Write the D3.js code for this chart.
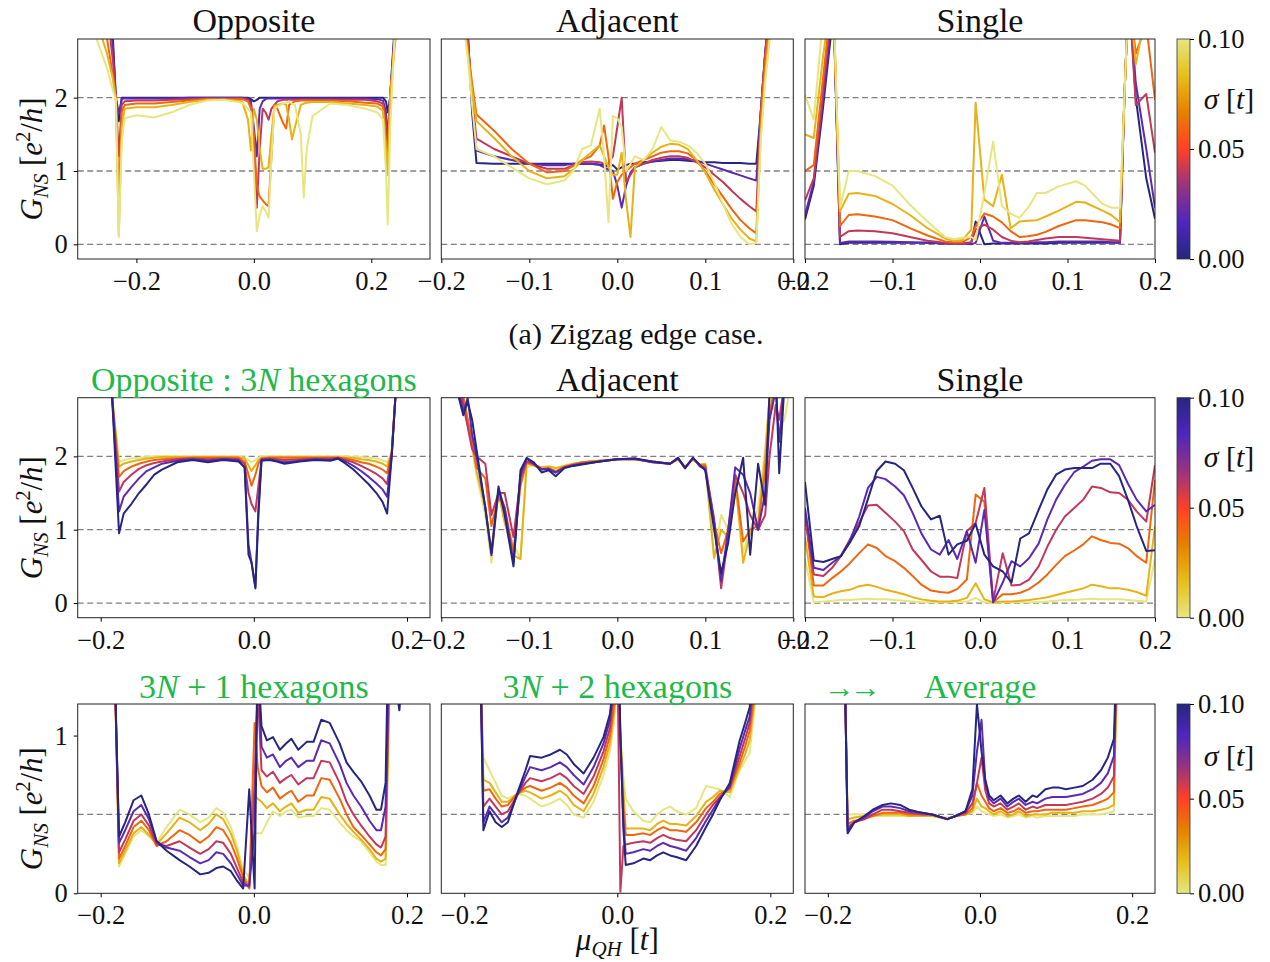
<!DOCTYPE html>
<html>
<head>
<meta charset="utf-8">
<script src="https://cdn.jsdelivr.net/npm/d3@7"></script>
<style>
  body { margin: 0; background: #fff; }
  svg text { font-family: "Liberation Serif", "DejaVu Serif", serif; fill: #111; }
  .tick text { font-size: 26.5px; }
  .green { fill: #1fb84a !important; }
</style>
</head>
<body>
<svg id="fig" width="1270" height="962"></svg>
<script>
// sigma values of the six curves (colour bar 0 .. 0.1)
const sigmas = [0, 0.02, 0.04, 0.06, 0.08, 0.1];

// ---- (a) zigzag edge: Opposite ----
const zzOppX = [-0.30, -0.27, -0.25, -0.24, -0.235, -0.23, -0.225, -0.22, -0.20, -0.17,
  -0.14, -0.11, -0.08, -0.05, -0.02, -0.01, -0.005, 0.0, 0.005, 0.01,
  0.015, 0.02, 0.025, 0.03, 0.035, 0.04, 0.05, 0.055, 0.06, 0.065,
  0.07, 0.08, 0.085, 0.09, 0.1, 0.13, 0.16, 0.19, 0.21, 0.22,
  0.225, 0.228, 0.232, 0.24, 0.25, 0.30];
const zzOppG = [
  [4, 4, 3.5, 2.8, 2.0, 1.68, 2.0, 2.0, 2.0, 2.0,
   2.0, 2.0, 2.0, 2.0, 2.0, 2.0, 1.98, 1.95, 1.97, 2.0,
   2.0, 2.0, 2.0, 2.0, 2.0, 2.0, 2.0, 2.0, 2.0, 2.0,
   2.0, 2.0, 2.0, 2.0, 2.0, 2.0, 2.0, 2.0, 2.0, 2.0,
   1.95, 1.8, 2.0, 3.0, 4, 4],
  [4, 4, 3.4, 2.7, 2.0, 1.78, 1.98, 1.99, 1.99, 1.99,
   1.99, 2.0, 2.0, 2.0, 2.0, 1.99, 1.95, 1.6, 1.2, 1.85,
   1.95, 1.98, 1.99, 1.99, 1.99, 1.99, 1.99, 1.99, 1.99, 1.99,
   1.99, 1.99, 1.99, 1.99, 1.99, 1.99, 1.99, 1.99, 1.98, 1.96,
   1.8, 1.45, 2.0, 2.9, 3.8, 4],
  [4, 3.8, 3.2, 2.5, 2.0, 1.2, 1.9, 1.95, 1.96, 1.96,
   1.97, 1.98, 1.99, 1.99, 1.99, 1.97, 1.9, 1.4, 0.5, 1.3,
   1.85, 1.8, 1.7, 1.85, 1.9, 1.95, 1.97, 1.97, 1.97, 1.97,
   1.97, 1.97, 1.97, 1.97, 1.97, 1.97, 1.97, 1.97, 1.95, 1.92,
   1.7, 1.3, 2.0, 2.8, 3.6, 4],
  [4, 3.5, 2.8, 2.3, 1.98, 0.62, 1.8, 1.9, 1.92, 1.92,
   1.94, 1.96, 1.98, 1.98, 1.98, 1.95, 1.85, 1.5, 0.8, 0.65,
   0.6, 0.55, 0.52, 1.2, 1.9, 1.85, 1.65, 1.58, 1.9, 1.93,
   1.95, 1.96, 1.96, 1.96, 1.96, 1.96, 1.95, 1.93, 1.92, 1.88,
   1.4, 0.95, 2.0, 2.8, 3.5, 4],
  [3.8, 3.1, 2.6, 2.25, 1.98, 0.12, 1.6, 1.85, 1.87, 1.87,
   1.9, 1.94, 1.97, 1.97, 1.95, 1.7, 1.28, 1.85, 1.7, 1.3,
   1.03, 1.03, 1.05, 1.5, 1.88, 1.9, 1.92, 1.9, 1.7, 1.43,
   1.6, 1.9, 1.92, 1.93, 1.94, 1.94, 1.92, 1.9, 1.88, 1.82,
   1.3, 0.95, 2.0, 2.7, 3.4, 4],
  [3.3, 2.85, 2.4, 2.1, 1.97, 0.1, 1.4, 1.72, 1.76, 1.73,
   1.8, 1.9, 1.96, 1.97, 1.93, 1.85, 1.8, 1.0, 0.18, 0.4,
   0.52, 0.45, 0.36, 1.2, 1.85, 1.88, 1.92, 1.93, 1.95, 1.92,
   1.9, 1.5, 0.64, 1.3, 1.75, 1.92, 1.9, 1.85, 1.8, 1.7,
   1.0, 0.27, 1.5, 2.9, 3.5, 4]
];

// ---- (a) zigzag edge: Adjacent ----
const zzAdjX = [-0.2, -0.18, -0.17, -0.165, -0.16, -0.14, -0.12, -0.1, -0.08, -0.06,
  -0.05, -0.04, -0.03, -0.02, -0.015, -0.01, -0.005, 0.0, 0.005, 0.01,
  0.015, 0.02, 0.03, 0.04, 0.05, 0.06, 0.07, 0.08, 0.09, 0.1,
  0.11, 0.12, 0.13, 0.14, 0.15, 0.158, 0.163, 0.168, 0.175, 0.2];
const zzAdjG = [
  [5, 4, 2.9, 1.8, 1.11, 1.1, 1.1, 1.1, 1.1, 1.1,
   1.1, 1.1, 1.1, 1.09, 1.08, 1.06, 1.08, 1.02, 1.05, 1.08,
   1.1, 1.1, 1.12, 1.13, 1.14, 1.15, 1.15, 1.14, 1.13, 1.12,
   1.12, 1.11, 1.11, 1.11, 1.1, 1.1, 1.8, 2.6, 3.5, 5],
  [5, 4, 2.9, 1.9, 1.28, 1.2, 1.15, 1.1, 1.08, 1.08,
   1.1, 1.1, 1.1, 1.08, 1.05, 1.02, 1.0, 0.8, 0.5, 0.8,
   0.98, 1.05, 1.1, 1.13, 1.15, 1.17, 1.17, 1.16, 1.14, 1.1,
   1.06, 1.02, 0.98, 0.94, 0.9, 0.87, 1.8, 2.6, 3.5, 5],
  [5, 4, 2.8, 2.0, 1.44, 1.3, 1.2, 1.1, 1.03, 1.03,
   1.08, 1.12, 1.13, 1.12, 1.1, 1.1, 1.2, 1.6, 2.0, 0.85,
   0.95, 1.05, 1.1, 1.15, 1.18, 1.2, 1.2, 1.18, 1.12, 1.05,
   0.95, 0.85, 0.73, 0.62, 0.52, 0.45, 1.8, 2.6, 3.4, 5],
  [5, 3.8, 2.7, 2.2, 1.77, 1.55, 1.3, 1.1, 0.98, 1.0,
   1.07, 1.15, 1.2, 1.35, 1.62, 1.2, 0.62, 0.85, 0.95, 1.0,
   1.05, 1.1, 1.15, 1.2, 1.25, 1.27, 1.27, 1.24, 1.15, 1.0,
   0.82, 0.65, 0.48, 0.33, 0.22, 0.15, 1.7, 2.5, 3.3, 5],
  [5, 3.6, 2.6, 2.1, 1.68, 1.45, 1.2, 1.0, 0.9, 0.93,
   1.02, 1.15, 1.25, 1.35, 1.2, 1.05, 0.95, 0.95, 1.25, 0.6,
   0.1, 1.05, 1.15, 1.25, 1.33, 1.37, 1.36, 1.3, 1.15, 0.98,
   0.75, 0.55, 0.35, 0.2, 0.08, 0.04, 1.5, 2.3, 3.1, 5],
  [5, 3.5, 2.55, 1.9, 1.3, 1.2, 1.05, 0.9, 0.82, 0.87,
   1.0, 1.3, 1.35, 1.85, 1.2, 0.3, 1.75, 1.72, 1.6, 1.0,
   1.1, 1.2, 1.15, 1.3, 1.6, 1.42, 1.4, 1.35, 1.25, 1.1,
   0.85, 0.55, 0.28, 0.1, 0.0, 0.02, 1.4, 2.2, 3.0, 5]
];

// ---- (a) zigzag edge: Single ----
const zzSinX = [-0.2, -0.19, -0.18, -0.17, -0.168, -0.16, -0.15, -0.14, -0.12, -0.1,
  -0.08, -0.06, -0.04, -0.03, -0.02, -0.01, -0.005, 0.005, 0.015, 0.025,
  0.035, 0.045, 0.055, 0.065, 0.075, 0.09, 0.11, 0.12, 0.14, 0.15,
  0.16, 0.165, 0.17, 0.178, 0.19, 0.2];
const zzSinG = [
  [0.34, 0.8, 1.8, 2.9, 3.5, 0.0, 0.02, 0.02, 0.02, 0.02,
   0.02, 0.02, 0.01, 0.01, 0.01, 0.02, 0.31, 0.0, 0.01, 0.01,
   0.01, 0.01, 0.01, 0.01, 0.01, 0.02, 0.02, 0.02, 0.02, 0.02,
   0.02, 2.0, 3.5, 2.0, 0.9, 0.35],
  [0.4, 0.85, 1.9, 3.0, 3.5, 0.02, 0.04, 0.04, 0.04, 0.035,
   0.03, 0.02, 0.01, 0.01, 0.01, 0.0, 0.02, 0.38, 0.05, 0.02,
   0.02, 0.02, 0.02, 0.03, 0.03, 0.04, 0.04, 0.04, 0.04, 0.03,
   0.03, 2.0, 3.5, 2.2, 1.3, 0.5],
  [0.6, 0.9, 2.0, 3.2, 3.5, 0.1, 0.18, 0.19, 0.18, 0.15,
   0.1, 0.05, 0.02, 0.01, 0.01, 0.03, 0.2, 0.27, 0.2, 0.1,
   0.05, 0.03, 0.04, 0.06, 0.08, 0.1, 0.1, 0.09, 0.07, 0.06,
   0.05, 2.0, 3.5, 1.9, 2.05, 1.25],
  [1.0, 1.08, 2.2, 3.3, 3.5, 0.25, 0.4, 0.41, 0.38, 0.33,
   0.22, 0.12, 0.04, 0.03, 0.03, 0.1, 0.25, 0.42, 0.38, 0.3,
   0.18, 0.1, 0.11, 0.13, 0.17, 0.25, 0.33, 0.33, 0.3, 0.27,
   0.22, 2.0, 3.5, 2.6, 3.0, 1.97],
  [1.5, 1.45, 2.5, 3.4, 3.5, 0.45, 0.69, 0.7, 0.66, 0.55,
   0.4, 0.22, 0.08, 0.05, 0.06, 0.2, 1.93, 0.61, 0.52, 0.95,
   0.22, 0.31, 0.32, 0.33, 0.38, 0.46, 0.58, 0.57, 0.46, 0.4,
   0.3, 2.0, 3.5, 2.45, 3.2, 3.2],
  [2.04, 1.7, 3.0, 3.5, 3.5, 0.5, 1.0, 1.0, 0.93, 0.8,
   0.54, 0.31, 0.1, 0.07, 0.09, 0.1, 0.06, 0.7, 1.4, 0.52,
   0.42, 0.36, 0.5, 0.7, 0.7, 0.79, 0.86, 0.8, 0.55, 0.5,
   0.5, 2.0, 3.5, 3.2, 3.2, 3.2]
];

// ---- Opposite : 3N hexagons ----
const hexOppX = [-0.23, -0.2, -0.19, -0.185, -0.176, -0.17, -0.16, -0.15, -0.14, -0.13,
  -0.12, -0.1, -0.08, -0.06, -0.04, -0.02, -0.012, -0.007, -0.003, 0.002,
  0.006, 0.01, 0.02, 0.03, 0.04, 0.06, 0.08, 0.1, 0.11, 0.12,
  0.13, 0.14, 0.15, 0.16, 0.168, 0.174, 0.18, 0.186, 0.2, 0.23];
const hexOppG = [
  [5, 4.5, 3.5, 2.8, 1.92, 1.95, 1.97, 1.98, 1.99, 2.0,
   2.0, 2.0, 2.0, 2.0, 2.0, 2.0, 1.98, 1.95, 1.92, 1.95,
   1.98, 2.0, 2.0, 2.0, 2.0, 2.0, 2.0, 2.0, 2.0, 2.0,
   1.99, 1.99, 1.98, 1.97, 1.95, 1.92, 2.05, 3.0, 4.5, 5],
  [5, 4.5, 3.5, 2.8, 1.86, 1.9, 1.93, 1.95, 1.97, 1.98,
   1.99, 1.99, 1.99, 1.99, 1.99, 1.99, 1.97, 1.88, 1.8, 1.88,
   1.95, 1.98, 1.99, 1.99, 1.99, 1.99, 1.99, 1.99, 1.99, 1.98,
   1.98, 1.96, 1.95, 1.93, 1.9, 1.86, 2.05, 3.0, 4.5, 5],
  [5, 4.5, 3.5, 2.8, 1.72, 1.8, 1.86, 1.9, 1.93, 1.95,
   1.96, 1.97, 1.98, 1.98, 1.98, 1.98, 1.93, 1.75, 1.6, 1.75,
   1.9, 1.97, 1.98, 1.98, 1.98, 1.98, 1.98, 1.98, 1.98, 1.97,
   1.95, 1.92, 1.9, 1.86, 1.82, 1.77, 2.05, 3.0, 4.5, 5],
  [5, 4.5, 3.5, 2.8, 1.52, 1.65, 1.75, 1.83, 1.88, 1.91,
   1.93, 1.96, 1.97, 1.96, 1.97, 1.96, 1.9, 1.5, 1.35, 1.25,
   1.6, 1.96, 1.97, 1.96, 1.95, 1.96, 1.97, 1.97, 1.98, 1.95,
   1.92, 1.87, 1.82, 1.76, 1.7, 1.62, 2.05, 3.0, 4.5, 5],
  [5, 4.5, 3.5, 2.8, 1.25, 1.45, 1.58, 1.7, 1.8, 1.85,
   1.9, 1.94, 1.96, 1.94, 1.96, 1.95, 1.85, 0.8, 0.55, 0.22,
   1.3, 1.95, 1.96, 1.94, 1.92, 1.94, 1.96, 1.95, 1.97, 1.93,
   1.87, 1.8, 1.72, 1.63, 1.55, 1.45, 2.0, 3.0, 4.5, 5],
  [5, 4.5, 3.5, 2.8, 0.95, 1.22, 1.35, 1.5, 1.62, 1.75,
   1.82, 1.92, 1.95, 1.92, 1.95, 1.93, 1.85, 0.66, 0.55, 0.2,
   1.2, 1.94, 1.95, 1.93, 1.9, 1.93, 1.95, 1.94, 1.97, 1.9,
   1.82, 1.72, 1.62, 1.5, 1.38, 1.22, 2.0, 3.0, 4.5, 5]
];

// ---- Adjacent (3N) ----
const hexAdjX = [-0.2, -0.185, -0.18, -0.175, -0.17, -0.165, -0.16, -0.15, -0.143, -0.135,
  -0.128, -0.118, -0.11, -0.103, -0.095, -0.086, -0.078, -0.07, -0.06, -0.05,
  -0.04, -0.02, 0.0, 0.02, 0.04, 0.06, 0.069, 0.077, 0.086, 0.094,
  0.1, 0.11, 0.118, 0.126, 0.134, 0.143, 0.151, 0.16, 0.168, 0.173,
  0.18, 0.184, 0.19, 0.2];
const hexAdjG = [
  [4, 3.5, 3.2, 2.8, 2.5, 2.1, 1.75, 1.2, 0.55, 1.55,
   1.1, 0.8, 0.6, 1.85, 1.88, 1.85, 1.87, 1.84, 1.88, 1.9,
   1.92, 1.94, 1.96, 1.96, 1.93, 1.9, 1.95, 1.87, 1.95, 1.88,
   1.88, 0.6, 1.2, 1.0, 1.6, 0.7, 1.0, 1.3, 2.1, 2.8,
   2.6, 2.4, 2.5, 3.2],
  [4, 3.5, 3.2, 2.8, 2.5, 2.15, 1.8, 1.3, 0.7, 1.5,
   1.1, 0.65, 0.6, 1.9, 1.88, 1.85, 1.86, 1.84, 1.87, 1.9,
   1.92, 1.94, 1.96, 1.96, 1.93, 1.9, 1.96, 1.86, 1.96, 1.89,
   1.9, 0.62, 1.0, 0.9, 1.7, 0.55, 0.95, 1.1, 2.0, 2.8,
   3.2, 2.8, 3.0, 3.5],
  [4, 3.5, 3.2, 2.8, 2.5, 2.2, 1.85, 1.7, 1.05, 1.45,
   1.3, 0.7, 1.6, 1.92, 1.88, 1.82, 1.84, 1.8, 1.86, 1.89,
   1.92, 1.94, 1.96, 1.96, 1.93, 1.9, 1.97, 1.85, 1.97, 1.88,
   1.88, 1.1, 0.68, 1.0, 1.72, 0.84, 1.0, 1.05, 1.8, 2.6,
   3.0, 3.0, 3.2, 3.5],
  [4, 3.4, 3.1, 2.7, 2.4, 2.1, 2.0, 1.9, 1.2, 1.5,
   1.5, 0.9, 1.7, 1.93, 1.9, 1.83, 1.82, 1.78, 1.85, 1.88,
   1.9, 1.93, 1.96, 1.96, 1.92, 1.9, 1.97, 1.84, 1.98, 1.86,
   1.85, 1.15, 0.2, 0.9, 1.75, 1.5, 1.2, 1.0, 1.2, 2.0,
   2.7, 2.5, 3.0, 3.5],
  [4, 3.2, 2.9, 2.6, 2.8, 2.3, 2.0, 1.3, 0.65, 1.55,
   1.3, 0.55, 1.75, 1.97, 1.9, 1.82, 1.83, 1.78, 1.85, 1.88,
   1.9, 1.93, 1.96, 1.97, 1.92, 1.9, 1.98, 1.84, 1.98, 1.87,
   1.82, 1.1, 0.3, 1.0, 1.85, 1.75, 1.5, 1.0, 1.5, 2.5,
   2.9, 2.2, 3.0, 3.5],
  [4, 3.0, 2.8, 2.56, 2.75, 2.5, 2.1, 1.3, 0.68, 1.59,
   1.2, 0.5, 1.81, 1.98, 1.92, 1.78, 1.81, 1.73, 1.84, 1.87,
   1.89, 1.93, 1.96, 1.97, 1.93, 1.9, 1.98, 1.84, 1.98, 1.88,
   1.81, 1.0, 0.41, 0.82, 1.5, 1.98, 0.66, 1.9, 1.34, 2.9,
   3.2, 1.77, 3.0, 3.5]
];

// ---- Single (3N) ----
const hexSinX = [-0.2, -0.19, -0.179, -0.169, -0.159, -0.149, -0.138, -0.128, -0.118, -0.108,
  -0.097, -0.087, -0.077, -0.067, -0.056, -0.046, -0.036, -0.026, -0.015, -0.005,
  0.005, 0.015, 0.026, 0.036, 0.046, 0.056, 0.067, 0.077, 0.087, 0.097,
  0.108, 0.118, 0.128, 0.138, 0.149, 0.159, 0.169, 0.179, 0.19, 0.2];
const hexSinG = [
  [0.6, 0.01, 0.02, 0.03, 0.04, 0.04, 0.05, 0.06, 0.05, 0.05,
   0.04, 0.03, 0.02, 0.01, 0.01, 0.01, 0.01, 0.01, 0.02, 0.07,
   0.01, 0.0, 0.01, 0.01, 0.01, 0.01, 0.01, 0.02, 0.03, 0.04,
   0.04, 0.05, 0.06, 0.05, 0.05, 0.05, 0.04, 0.03, 0.02, 0.6],
  [0.9, 0.09, 0.08, 0.13, 0.16, 0.18, 0.23, 0.25, 0.22, 0.18,
   0.15, 0.12, 0.08, 0.05, 0.03, 0.02, 0.02, 0.03, 0.07, 0.27,
   0.05, 0.01, 0.02, 0.02, 0.03, 0.04, 0.06, 0.08, 0.11, 0.14,
   0.17, 0.2, 0.25, 0.23, 0.2, 0.2, 0.18, 0.15, 0.1, 1.05],
  [1.2, 0.24, 0.24, 0.34, 0.43, 0.54, 0.68, 0.8, 0.75, 0.64,
   0.57, 0.48, 0.37, 0.25, 0.17, 0.15, 0.14, 0.19, 0.32, 1.48,
   1.38, 0.01, 0.12, 0.12, 0.14, 0.19, 0.28, 0.39, 0.52, 0.64,
   0.72, 0.8, 0.91, 0.86, 0.82, 0.81, 0.75, 0.64, 0.55, 1.68],
  [1.18, 0.39, 0.37, 0.48, 0.64, 0.86, 1.1, 1.33, 1.34, 1.23,
   1.11, 0.98, 0.73, 0.59, 0.43, 0.36, 0.36, 0.34, 0.98, 1.09,
   1.57, 0.03, 0.68, 0.24, 0.25, 0.32, 0.5, 0.77, 1.0, 1.18,
   1.3, 1.41, 1.59, 1.57, 1.51, 1.5, 1.41, 1.25, 1.11, 1.88],
  [1.3, 0.48, 0.45, 0.55, 0.64, 0.84, 1.18, 1.57, 1.72, 1.69,
   1.59, 1.47, 1.23, 0.95, 0.73, 0.66, 0.86, 0.6, 0.98, 0.55,
   1.27, 0.01, 0.28, 0.57, 0.5, 0.61, 0.81, 1.14, 1.41, 1.61,
   1.79, 1.86, 1.94, 1.96, 1.96, 1.88, 1.63, 1.41, 1.25, 1.34],
  [1.65, 0.58, 0.56, 0.6, 0.64, 0.82, 1.05, 1.42, 1.8, 1.93,
   1.9, 1.81, 1.57, 1.32, 1.14, 1.19, 0.66, 0.8, 0.85, 1.08,
   0.66, 0.5, 0.43, 0.28, 0.88, 0.95, 1.27, 1.55, 1.75, 1.82,
   1.84, 1.84, 1.84, 1.9, 1.9, 1.73, 1.41, 1.05, 0.71, 0.72]
];

// ---- 3N + 1 hexagons ----
const hex1X = [-0.23, -0.19, -0.182, -0.176, -0.168, -0.157, -0.147, -0.137, -0.127, -0.114,
  -0.097, -0.084, -0.07, -0.059, -0.049, -0.04, -0.03, -0.022, -0.014, -0.006,
  0.001, 0.005, 0.01, 0.017, 0.025, 0.034, 0.042, 0.049, 0.058, 0.069,
  0.078, 0.088, 0.099, 0.112, 0.121, 0.13, 0.14, 0.151, 0.16, 0.166,
  0.172, 0.177, 0.183, 0.19, 0.196, 0.23];
const hex1G = [
  [2, 2, 1.5, 0.17, 0.25, 0.36, 0.4, 0.36, 0.32, 0.42,
   0.53, 0.5, 0.45, 0.48, 0.54, 0.51, 0.42, 0.3, 0.15, 0.1,
   0.38, 0.38, 0.38, 0.45, 0.52, 0.49, 0.52, 0.53, 0.48, 0.49,
   0.49, 0.54, 0.53, 0.45, 0.4, 0.36, 0.33, 0.26, 0.2, 0.18,
   0.18, 1.2, 2, 2, 2, 2],
  [2, 2, 1.5, 0.19, 0.27, 0.38, 0.42, 0.37, 0.31, 0.38,
   0.48, 0.45, 0.4, 0.44, 0.5, 0.47, 0.38, 0.27, 0.12, 0.05,
   0.62, 0.6, 0.58, 0.54, 0.57, 0.52, 0.55, 0.57, 0.51, 0.53,
   0.53, 0.61, 0.6, 0.5, 0.44, 0.39, 0.34, 0.28, 0.22, 0.2,
   0.22, 1.3, 2, 2, 2, 2],
  [2, 2, 1.5, 0.22, 0.3, 0.42, 0.46, 0.4, 0.3, 0.33,
   0.4, 0.37, 0.32, 0.36, 0.42, 0.4, 0.32, 0.22, 0.1, 0.03,
   1.08, 0.8, 0.68, 0.64, 0.67, 0.6, 0.63, 0.65, 0.58, 0.62,
   0.62, 0.73, 0.72, 0.6, 0.5, 0.42, 0.37, 0.31, 0.26, 0.24,
   0.28, 1.4, 2, 2, 2, 2],
  [2, 2, 1.5, 0.26, 0.34, 0.46, 0.5, 0.43, 0.31, 0.3,
   0.33, 0.29, 0.25, 0.28, 0.33, 0.32, 0.25, 0.16, 0.07, 0.04,
   0.7, 1.3, 0.78, 0.74, 0.77, 0.7, 0.73, 0.75, 0.69, 0.73,
   0.73, 0.84, 0.83, 0.7, 0.58, 0.5, 0.43, 0.36, 0.31, 0.29,
   0.36, 1.5, 2, 2, 2, 2],
  [2, 2, 1.5, 0.32, 0.4, 0.52, 0.56, 0.47, 0.33, 0.29,
   0.27, 0.23, 0.19, 0.21, 0.26, 0.25, 0.19, 0.12, 0.05, 0.05,
   0.4, 1.5, 0.93, 0.86, 0.88, 0.8, 0.84, 0.86, 0.8, 0.84,
   0.84, 0.97, 0.95, 0.82, 0.7, 0.62, 0.55, 0.46, 0.4, 0.4,
   0.55, 1.6, 2, 2, 2, 2],
  [2, 2, 1.5, 0.36, 0.45, 0.59, 0.62, 0.5, 0.33, 0.27,
   0.21, 0.17, 0.12, 0.13, 0.16, 0.17, 0.14, 0.08, 0.03, 0.66,
   0.03, 1.5, 1.06, 0.97, 0.99, 0.91, 0.95, 0.98, 0.91, 0.96,
   0.96, 1.1, 1.08, 0.95, 0.83, 0.77, 0.71, 0.62, 0.53, 0.53,
   0.7, 2.0, 1.4, 1.16, 1.5, 2]
];

// ---- 3N + 2 hexagons ----
const hex2X = [-0.23, -0.19, -0.179, -0.175, -0.167, -0.159, -0.151, -0.143, -0.131, -0.12,
  -0.114, -0.099, -0.087, -0.075, -0.066, -0.057, -0.044, -0.031, -0.018, -0.0095,
  -0.004, 0.0, 0.004, 0.008, 0.011, 0.021, 0.034, 0.043, 0.052, 0.06,
  0.069, 0.077, 0.09, 0.103, 0.116, 0.125, 0.134, 0.147, 0.16, 0.167,
  0.173, 0.18, 0.23];
const hex2G = [
  [2, 2, 1.5, 0.86, 0.78, 0.7, 0.62, 0.6, 0.63, 0.62,
   0.6, 0.55, 0.57, 0.6, 0.56, 0.5, 0.48, 0.58, 0.75, 0.9,
   1.1, 1.3, 1.0, 0.74, 0.6, 0.52, 0.46, 0.45, 0.5, 0.53,
   0.55, 0.52, 0.5, 0.54, 0.68, 0.67, 0.66, 0.61, 0.78, 0.84,
   0.89, 1.2, 2],
  [2, 2, 1.5, 0.72, 0.7, 0.64, 0.58, 0.58, 0.63, 0.65,
   0.64, 0.6, 0.62, 0.65, 0.62, 0.56, 0.52, 0.63, 0.8, 0.95,
   1.15, 1.4, 1.0, 0.65, 0.41, 0.41, 0.41, 0.4, 0.44, 0.46,
   0.44, 0.44, 0.43, 0.49, 0.58, 0.61, 0.65, 0.64, 0.8, 0.88,
   0.97, 1.25, 2],
  [2, 2, 1.5, 0.65, 0.66, 0.6, 0.55, 0.56, 0.63, 0.67,
   0.68, 0.65, 0.67, 0.7, 0.67, 0.62, 0.57, 0.68, 0.85, 1.0,
   1.2, 1.5, 1.0, 0.55, 0.37, 0.37, 0.38, 0.37, 0.4, 0.42,
   0.4, 0.4, 0.39, 0.45, 0.54, 0.58, 0.63, 0.66, 0.83, 0.93,
   1.03, 1.3, 2],
  [2, 2, 1.5, 0.55, 0.6, 0.55, 0.5, 0.52, 0.62, 0.7,
   0.73, 0.71, 0.73, 0.76, 0.73, 0.68, 0.63, 0.74, 0.9, 1.05,
   1.3, 1.6, 0.01, 0.3, 0.31, 0.32, 0.33, 0.32, 0.35, 0.37,
   0.35, 0.34, 0.33, 0.4, 0.5, 0.56, 0.61, 0.67, 0.87, 0.98,
   1.08, 1.4, 2],
  [2, 2, 1.5, 0.45, 0.55, 0.5, 0.45, 0.48, 0.62, 0.74,
   0.8, 0.78, 0.8, 0.83, 0.8, 0.75, 0.69, 0.8, 0.95, 1.1,
   1.4, 2, 1.0, 0.45, 0.25, 0.26, 0.28, 0.27, 0.3, 0.32,
   0.3, 0.29, 0.27, 0.35, 0.46, 0.53, 0.6, 0.68, 0.92, 1.03,
   1.12, 1.5, 2],
  [2, 2, 1.5, 0.4, 0.52, 0.45, 0.42, 0.45, 0.63, 0.78,
   0.87, 0.86, 0.88, 0.91, 0.88, 0.82, 0.76, 0.86, 0.99, 1.14,
   1.4, 2, 1.0, 0.4, 0.18, 0.19, 0.22, 0.21, 0.24, 0.26,
   0.24, 0.23, 0.21, 0.3, 0.42, 0.5, 0.59, 0.7, 0.97, 1.08,
   1.18, 1.5, 2]
];

// ---- Average ----
const avgX = [-0.23, -0.19, -0.178, -0.174, -0.165, -0.152, -0.141, -0.128, -0.117, -0.105,
  -0.093, -0.076, -0.063, -0.043, -0.032, -0.019, -0.01, -0.004, 0.002, 0.007,
  0.012, 0.018, 0.027, 0.036, 0.044, 0.051, 0.06, 0.069, 0.075, 0.086,
  0.095, 0.104, 0.113, 0.124, 0.135, 0.148, 0.159, 0.168, 0.176, 0.178,
  0.185, 0.23];
const avgG = [
  [2, 2, 1.5, 0.5, 0.5, 0.5, 0.49, 0.49, 0.49, 0.49,
   0.49, 0.49, 0.49, 0.48, 0.49, 0.5, 0.51, 0.55, 0.52, 0.51,
   0.5, 0.49, 0.5, 0.48, 0.49, 0.5, 0.48, 0.49, 0.48, 0.49,
   0.49, 0.49, 0.49, 0.49, 0.5, 0.5, 0.5, 0.51, 0.52, 1.0,
   2, 2],
  [2, 2, 1.5, 0.47, 0.48, 0.49, 0.49, 0.5, 0.5, 0.5,
   0.49, 0.49, 0.49, 0.47, 0.49, 0.5, 0.52, 0.6, 0.55, 0.54,
   0.52, 0.5, 0.52, 0.49, 0.5, 0.52, 0.49, 0.5, 0.5, 0.5,
   0.51, 0.51, 0.51, 0.51, 0.52, 0.52, 0.53, 0.54, 0.56, 1.0,
   2, 2],
  [2, 2, 1.5, 0.44, 0.46, 0.47, 0.49, 0.51, 0.51, 0.51,
   0.5, 0.5, 0.5, 0.47, 0.49, 0.5, 0.54, 0.7, 0.62, 0.58,
   0.54, 0.52, 0.54, 0.51, 0.52, 0.54, 0.51, 0.52, 0.52, 0.53,
   0.53, 0.53, 0.53, 0.54, 0.55, 0.56, 0.58, 0.6, 0.64, 1.1,
   2, 2],
  [2, 2, 1.5, 0.42, 0.45, 0.47, 0.5, 0.53, 0.53, 0.52,
   0.51, 0.5, 0.5, 0.47, 0.49, 0.51, 0.57, 0.7, 0.86, 0.65,
   0.57, 0.55, 0.57, 0.53, 0.55, 0.57, 0.53, 0.55, 0.54, 0.56,
   0.56, 0.56, 0.56, 0.57, 0.58, 0.6, 0.63, 0.67, 0.74, 1.2,
   2, 2],
  [2, 2, 1.5, 0.4, 0.45, 0.48, 0.52, 0.55, 0.55, 0.54,
   0.52, 0.51, 0.5, 0.47, 0.49, 0.52, 0.62, 0.9, 1.1, 0.7,
   0.6, 0.57, 0.6, 0.55, 0.58, 0.6, 0.56, 0.58, 0.57, 0.6,
   0.61, 0.61, 0.61, 0.62, 0.63, 0.66, 0.7, 0.76, 0.87, 1.2,
   2, 2],
  [2, 2, 1.5, 0.38, 0.45, 0.49, 0.53, 0.56, 0.57, 0.56,
   0.53, 0.51, 0.5, 0.47, 0.49, 0.52, 0.66, 1.2, 0.9, 0.72,
   0.62, 0.59, 0.62, 0.57, 0.6, 0.62, 0.58, 0.62, 0.61, 0.66,
   0.67, 0.67, 0.66, 0.67, 0.68, 0.72, 0.78, 0.86, 0.98, 1.3,
   2, 2]
];

// tick values
const xTicks3 = [-0.2, 0, 0.2];
const xTicks5 = [-0.2, -0.1, 0, 0.1, 0.2];
const cbTicks = [0, 0.05, 0.1];

// CMRmap, cut to its 0.125 .. 0.875 part
const cmapStops = ["#262680", "#4d26bf", "#993380", "#ff4026", "#e68000", "#e6bf1a", "#e6e680"];
const cmap = d3.scaleLinear().domain(cmapStops.map((d, i) => i / 6)).range(cmapStops);

const cols = [[77.7, 430], [441.3, 793.3], [805, 1155]];
const rows = [
  {y: [39, 259], yd: [-0.2, 2.8], yt: [0, 1, 2], dash: [0, 1, 2], rev: false, title: 32, cbLab: 100},
  {y: [397.7, 617.7], yd: [-0.2, 2.8], yt: [0, 1, 2], dash: [0, 1, 2], rev: true, title: 391, cbLab: 458},
  {y: [704, 893.3], yd: [0, 1.2], yt: [0, 1], dash: [0.5], rev: true, title: 698, cbLab: 757}
];

const panels = [
  {r: 0, c: 0, x: zzOppX, ys: zzOppG, xd: [-0.3, 0.3], xt: xTicks3},
  {r: 0, c: 1, x: zzAdjX, ys: zzAdjG, xd: [-0.2, 0.2], xt: xTicks5},
  {r: 0, c: 2, x: zzSinX, ys: zzSinG, xd: [-0.2, 0.2], xt: xTicks5},
  {r: 1, c: 0, x: hexOppX, ys: hexOppG, xd: [-0.23, 0.23], xt: xTicks3},
  {r: 1, c: 1, x: hexAdjX, ys: hexAdjG, xd: [-0.2, 0.2], xt: xTicks5},
  {r: 1, c: 2, x: hexSinX, ys: hexSinG, xd: [-0.2, 0.2], xt: xTicks5},
  {r: 2, c: 0, x: hex1X, ys: hex1G, xd: [-0.23, 0.23], xt: xTicks3},
  {r: 2, c: 1, x: hex2X, ys: hex2G, xd: [-0.23, 0.23], xt: xTicks3},
  {r: 2, c: 2, x: avgX, ys: avgG, xd: [-0.23, 0.23], xt: xTicks3}
];

const svg = d3.select("#fig");
const defs = svg.append("defs");

function curveColor(k, rev) {
  const t = sigmas[k] / 0.1;
  return cmap(rev ? 1 - t : t);
}

panels.forEach((p, i) => {
  const R = rows[p.r], C = cols[p.c];
  const x = d3.scaleLinear().domain(p.xd).range(C);
  const y = d3.scaleLinear().domain(R.yd).range([R.y[1], R.y[0]]);

  defs.append("clipPath").attr("id", "clip" + i)
    .append("rect")
    .attr("x", C[0]).attr("y", R.y[0])
    .attr("width", C[1] - C[0]).attr("height", R.y[1] - R.y[0]);

  const g = svg.append("g");

  g.selectAll(".dash").data(R.dash).join("line")
    .attr("x1", C[0]).attr("x2", C[1])
    .attr("y1", d => y(d)).attr("y2", d => y(d))
    .attr("stroke", "#808080").attr("stroke-width", 1.3)
    .attr("stroke-dasharray", "6,3.5");

  const line = d3.line().x((d, j) => x(p.x[j])).y(d => y(d));
  g.append("g").attr("clip-path", `url(#clip${i})`)
    .selectAll("path").data(p.ys).join("path")
    .attr("d", line)
    .attr("fill", "none")
    .attr("stroke", (d, k) => curveColor(k, R.rev))
    .attr("stroke-width", 2)
    .attr("stroke-linejoin", "round");

  g.append("rect")
    .attr("x", C[0]).attr("y", R.y[0])
    .attr("width", C[1] - C[0]).attr("height", R.y[1] - R.y[0])
    .attr("fill", "none").attr("stroke", "#222").attr("stroke-width", 1);

  const xa = g.append("g")
    .attr("transform", "translate(0," + R.y[1] + ")")
    .call(d3.axisBottom(x).tickValues(p.xt).tickFormat(d3.format(".1f")).tickSize(4).tickPadding(8));
  xa.select(".domain").remove();
  xa.attr("font-family", null).attr("font-size", null);

  if (p.c === 0) {
    const ya = g.append("g")
      .attr("transform", "translate(" + C[0] + ",0)")
      .call(d3.axisLeft(y).tickValues(R.yt).tickFormat(d3.format("d")).tickSize(4).tickPadding(6));
    ya.select(".domain").remove();
    ya.attr("font-family", null).attr("font-size", null);
  }
});

// y labels  G_NS [e^2/h]
rows.forEach(R => {
  const cy = (R.y[0] + R.y[1]) / 2 + 10;
  const t = svg.append("text")
    .attr("transform", `translate(42,${cy}) rotate(-90)`)
    .attr("text-anchor", "middle").attr("font-size", 31);
  t.append("tspan").attr("font-style", "italic").text("G");
  t.append("tspan").attr("font-style", "italic").attr("font-size", 21).attr("dy", 6).text("NS");
  t.append("tspan").attr("dy", -6).text(" [");
  t.append("tspan").attr("font-style", "italic").text("e");
  t.append("tspan").attr("font-size", 20).attr("dy", -12).text("2");
  t.append("tspan").attr("dy", 12).text("/");
  t.append("tspan").attr("font-style", "italic").text("h");
  t.append("tspan").text("]");
});

// colour bars
rows.forEach((R, ri) => {
  const gid = "cbgrad" + ri;
  const grad = defs.append("linearGradient").attr("id", gid)
    .attr("x1", 0).attr("y1", 1).attr("x2", 0).attr("y2", 0);
  const stops = R.rev ? cmapStops.slice().reverse() : cmapStops;
  stops.forEach((c, k) => grad.append("stop").attr("offset", k / 6).attr("stop-color", c));
  const x0 = 1177, w = 13;
  svg.append("rect").attr("x", x0).attr("y", R.y[0]).attr("width", w).attr("height", R.y[1] - R.y[0])
    .attr("fill", `url(#${gid})`).attr("stroke", "#333").attr("stroke-width", 0.8);
  const cs = d3.scaleLinear().domain([0, 0.1]).range([R.y[1], R.y[0]]);
  const ca = svg.append("g").attr("transform", `translate(${x0 + w},0)`)
    .call(d3.axisRight(cs).tickValues(cbTicks).tickFormat(d3.format(".2f")).tickSize(4).tickPadding(4));
  ca.select(".domain").remove();
  ca.attr("font-family", null).attr("font-size", null);
  const lab = svg.append("text").attr("x", 1229).attr("y", R.cbLab + 9)
    .attr("text-anchor", "middle").attr("font-size", 30);
  lab.append("tspan").attr("font-style", "italic").text("σ");
  lab.append("tspan").text("  [");
  lab.append("tspan").attr("font-style", "italic").text("t");
  lab.append("tspan").text("]");
});

// titles
function colMid(c) { return (cols[c][0] + cols[c][1]) / 2; }
["Opposite", "Adjacent", "Single"].forEach((s, c) => {
  svg.append("text").attr("x", colMid(c)).attr("y", rows[0].title)
    .attr("text-anchor", "middle").attr("font-size", 34).text(s);
});
["Adjacent", "Single"].forEach((s, c) => {
  svg.append("text").attr("x", colMid(c + 1)).attr("y", rows[1].title)
    .attr("text-anchor", "middle").attr("font-size", 34).text(s);
});

function greenTitle(xc, yb, before, after) {
  const t = svg.append("text").attr("class", "green").attr("x", xc).attr("y", yb)
    .attr("text-anchor", "middle").attr("font-size", 34);
  t.append("tspan").text(before);
  t.append("tspan").attr("font-style", "italic").text("N");
  t.append("tspan").text(after);
}
greenTitle(colMid(0), rows[1].title, "Opposite : 3", " hexagons");
greenTitle(colMid(0), rows[2].title, "3", " + 1 hexagons");
greenTitle(colMid(1), rows[2].title, "3", " + 2 hexagons");
svg.append("text").attr("class", "green").attr("x", 850).attr("y", rows[2].title)
  .attr("text-anchor", "middle").attr("font-size", 31).attr("letter-spacing", -5).text("→→");
svg.append("text").attr("class", "green").attr("x", 980).attr("y", rows[2].title)
  .attr("text-anchor", "middle").attr("font-size", 34).text("Average");

// caption
svg.append("text").attr("x", 636).attr("y", 344).attr("text-anchor", "middle")
  .attr("font-size", 30).text("(a) Zigzag edge case.");

// x label  mu_QH [t]
const xl = svg.append("text").attr("x", colMid(1)).attr("y", 950)
  .attr("text-anchor", "middle").attr("font-size", 31);
xl.append("tspan").attr("font-style", "italic").text("μ");
xl.append("tspan").attr("font-style", "italic").attr("font-size", 21).attr("dy", 6).text("QH");
xl.append("tspan").attr("dy", -6).text(" [");
xl.append("tspan").attr("font-style", "italic").text("t");
xl.append("tspan").text("]");
</script>
</body>
</html>
